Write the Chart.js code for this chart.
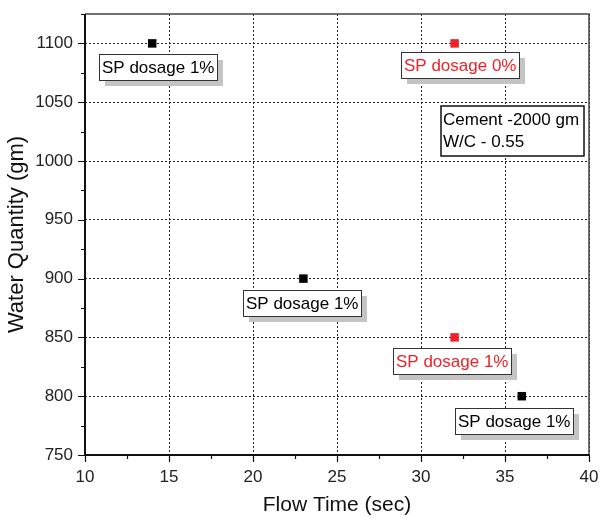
<!DOCTYPE html>
<html>
<head>
<meta charset="utf-8">
<script src="https://cdn.jsdelivr.net/npm/chart.js@4/dist/chart.umd.min.js"></script>
<style>
  html, body { margin: 0; padding: 0; background: #ffffff; }
  #wrap { width: 600px; height: 518px; }
</style>
</head>
<body>
<div id="wrap"><canvas id="c" width="600" height="518"></canvas></div>
<script>
// Flow time (sec) vs. water quantity (gm)
const flowTimeBlack = [14, 23, 36];
const waterBlack = [1100, 900, 800];
const labelsBlack = ['SP dosage 1%', 'SP dosage 1%', 'SP dosage 1%'];

const flowTimeRed = [32, 32];
const waterRed = [1100, 850];
const labelsRed = ['SP dosage 0%', 'SP dosage 1%'];

const xTickValues = [10, 15, 20, 25, 30, 35, 40];
const yTickValues = [750, 800, 850, 900, 950, 1000, 1050, 1100];
const noteLines = ['Cement -2000 gm', 'W/C - 0.55'];

const FONT = '"Liberation Sans", Arial, sans-serif';
const BLACK = '#000000';
const RED = '#ee2229';

// label box placement relative to its point: [dx of box centre, dy of box top]
const offsetsBlack = [[6, 11], [-1, 11], [-8, 12]];
const offsetsRed = [[5, 9], [-3, 11]];

function toPoints(xs, ys) { return xs.map((x, i) => ({ x: x, y: ys[i] })); }

const frameAndTicks = {
  id: 'frameAndTicks',
  afterDraw(chart) {
    const { ctx, chartArea: a, scales } = chart;
    const xs = scales.x, ys = scales.y;
    ctx.save();
    // top and right border
    ctx.strokeStyle = '#444';
    ctx.lineWidth = 1.5;
    ctx.beginPath();
    ctx.moveTo(a.left, a.top); ctx.lineTo(a.right, a.top); ctx.lineTo(a.right, a.bottom);
    ctx.stroke();
    // left and bottom axes
    ctx.strokeStyle = '#111';
    ctx.lineWidth = 2;
    ctx.beginPath();
    ctx.moveTo(a.left, a.top); ctx.lineTo(a.left, a.bottom); ctx.lineTo(a.right, a.bottom);
    ctx.stroke();
    // tick marks
    ctx.lineWidth = 1.2;
    ctx.beginPath();
    for (let v = 10; v <= 40; v += 2.5) {
      const px = Math.round(xs.getPixelForValue(v)) + 0.5;
      const major = v % 5 === 0;
      ctx.moveTo(px, a.bottom); ctx.lineTo(px, a.bottom + (major ? 7 : 4));
    }
    for (let v = 750; v <= 1125; v += 25) {
      const py = Math.round(ys.getPixelForValue(v)) + 0.5;
      const major = v % 50 === 0;
      ctx.moveTo(a.left, py); ctx.lineTo(a.left - (major ? 7 : 4), py);
    }
    ctx.stroke();
    ctx.restore();
  }
};

function drawTag(ctx, cx, top, text, color) {
  ctx.font = '17px ' + FONT;
  const w = Math.round(ctx.measureText(text).width + 6);
  const h = 26;
  const left = Math.round(cx - w / 2);
  ctx.fillStyle = '#c4c4c4';
  ctx.fillRect(left + 6, top + 6, w, h);
  ctx.fillStyle = '#ffffff';
  ctx.fillRect(left, top, w, h);
  ctx.strokeStyle = '#333';
  ctx.lineWidth = 1;
  ctx.strokeRect(left + 0.5, top + 0.5, w, h);
  ctx.fillStyle = color;
  ctx.textAlign = 'left';
  ctx.textBaseline = 'middle';
  ctx.fillText(text, left + 3, top + h / 2 + 1);
}

const tags = {
  id: 'tags',
  afterDatasetsDraw(chart) {
    const { ctx, scales } = chart;
    ctx.save();
    const groups = [
      [flowTimeBlack, waterBlack, labelsBlack, offsetsBlack, BLACK],
      [flowTimeRed, waterRed, labelsRed, offsetsRed, RED]
    ];
    groups.forEach(([xs, ys, texts, offs, color]) => {
      xs.forEach((x, i) => {
        const px = scales.x.getPixelForValue(x);
        const py = scales.y.getPixelForValue(ys[i]);
        drawTag(ctx, px + offs[i][0], Math.round(py + offs[i][1]), texts[i], color);
      });
    });
    // note box
    const a = chart.chartArea;
    ctx.font = '17px ' + FONT;
    const w = 143, h = 50;
    const left = a.right - 5 - w, top = a.top + 92;
    ctx.fillStyle = '#ffffff';
    ctx.fillRect(left, top, w, h);
    ctx.strokeStyle = '#111';
    ctx.lineWidth = 1.5;
    ctx.strokeRect(left, top, w, h);
    ctx.fillStyle = '#000';
    ctx.textAlign = 'left';
    ctx.textBaseline = 'middle';
    ctx.fillText(noteLines[0], left + 2, top + 14);
    ctx.fillText(noteLines[1], left + 2, top + 36);
    ctx.restore();
  }
};

new Chart(document.getElementById('c'), {
  type: 'scatter',
  data: {
    datasets: [
      {
        data: toPoints(flowTimeBlack, waterBlack),
        pointStyle: 'rect', pointRadius: 6, pointHoverRadius: 6,
        backgroundColor: BLACK, borderColor: BLACK, borderWidth: 0
      },
      {
        data: toPoints(flowTimeRed, waterRed),
        pointStyle: 'rect', pointRadius: 6, pointHoverRadius: 6,
        backgroundColor: RED, borderColor: RED, borderWidth: 0
      }
    ]
  },
  options: {
    responsive: false,
    animation: false,
    events: [],
    layout: { padding: { top: 14, right: 11, left: 0, bottom: 0 } },
    plugins: { legend: { display: false }, tooltip: { enabled: false } },
    scales: {
      x: {
        type: 'linear', min: 10, max: 40,
        afterBuildTicks(s) { s.ticks = xTickValues.map(v => ({ value: v })); },
        afterFit(s) { s.height = 63; s.paddingLeft = 0; s.paddingRight = 0; },
        border: { display: false, dash: [2, 2] },
        grid: { drawTicks: false, color: '#222', lineWidth: 1 },
        ticks: { padding: 12, color: '#222', font: { family: FONT, size: 17 }, maxRotation: 0, callback: v => String(v) },
        title: { display: true, text: 'Flow Time (sec)', color: '#111', font: { family: FONT, size: 21 }, padding: { top: 0, bottom: 0 } }
      },
      y: {
        type: 'linear', min: 750, max: 1125,
        afterBuildTicks(s) { s.ticks = yTickValues.map(v => ({ value: v })); },
        afterFit(s) { s.width = 85; s.paddingTop = 0; s.paddingBottom = 0; },
        border: { display: false, dash: [2, 2] },
        grid: { drawTicks: false, color: '#222', lineWidth: 1 },
        ticks: { padding: 12, color: '#222', font: { family: FONT, size: 17 }, callback: v => String(v) },
        title: { display: true, text: 'Water Quantity (gm)', color: '#111', font: { family: FONT, size: 22 }, padding: { top: 4, bottom: 0 } }
      }
    }
  },
  plugins: [tags, frameAndTicks]
});
</script>
</body>
</html>
